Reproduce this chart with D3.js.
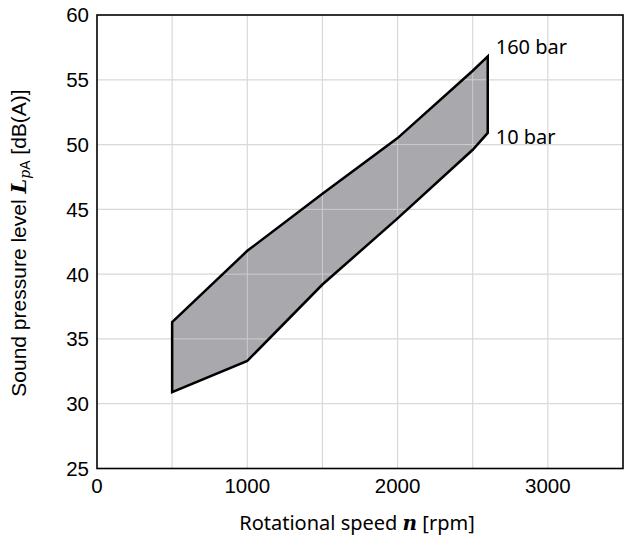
<!DOCTYPE html>
<html><head><meta charset="utf-8">
<script src="https://cdn.jsdelivr.net/npm/d3@7"></script>
<style>body{margin:0;background:#fff}</style>
</head><body>
<svg id="c" width="630" height="541"></svg>
<script>
const speeds = [500, 1000, 1500, 2000, 2500, 2600];
const upper160 = [36.3, 41.8, 46.2, 50.5, 55.7, 56.8];
const lower10 = [30.9, 33.3, 39.2, 44.3, 49.6, 50.9];
const xTicks = [0, 1000, 2000, 3000];
const yTicks = [25, 30, 35, 40, 45, 50, 55, 60];
const xGrid = [500, 1000, 1500, 2000, 2500, 3000];
const seriesLabels = ["160 bar", "10 bar"];

const svg = d3.select("#c");
const L = 97, R = 623, T = 15, B = 468.5;
const x = d3.scaleLinear().domain([0, 3500]).range([L, R]);
const y = d3.scaleLinear().domain([25, 60]).range([B, T]);

const grid = svg.append("g").attr("stroke", "#d9d9d9").attr("stroke-width", 1.2);
xGrid.forEach(v => grid.append("line").attr("x1", x(v)).attr("x2", x(v)).attr("y1", T).attr("y2", B));
yTicks.slice(1, -1).forEach(v => grid.append("line").attr("x1", L).attr("x2", R).attr("y1", y(v)).attr("y2", y(v)));

const pts = speeds.map((s, i) => [s, upper160[i]]).concat(speeds.map((s, i) => [s, lower10[i]]).reverse());
const polyD = d3.line().x(d => x(d[0])).y(d => y(d[1]))(pts) + "Z";
svg.append("path").attr("d", polyD).attr("fill", "#a9a9ad");

svg.append("clipPath").attr("id", "pc").append("path").attr("d", polyD);
const grid2 = svg.append("g").attr("stroke", "#d4d4d6").attr("stroke-width", 1).attr("opacity", 0.85)
  .attr("clip-path", "url(#pc)");
xGrid.forEach(v => grid2.append("line").attr("x1", x(v)).attr("x2", x(v)).attr("y1", T).attr("y2", B));
yTicks.slice(1, -1).forEach(v => grid2.append("line").attr("x1", L).attr("x2", R).attr("y1", y(v)).attr("y2", y(v)));

svg.append("path").attr("d", polyD)
  .attr("fill", "none").attr("stroke", "#000").attr("stroke-width", 2.5);

svg.append("rect").attr("x", L).attr("y", T).attr("width", R - L).attr("height", B - T)
  .attr("fill", "none").attr("stroke", "#000").attr("stroke-width", 1.6);

const tf = "'Liberation Sans', Arial, sans-serif";
svg.append("g").selectAll("text").data(yTicks).join("text")
  .attr("x", L - 8).attr("y", d => y(d)).attr("dy", "0.36em")
  .attr("text-anchor", "end").attr("font-family", tf).attr("font-size", 20.5).text(d => d);
svg.append("g").selectAll("text").data(xTicks).join("text")
  .attr("x", d => x(d)).attr("y", B + 17).attr("dy", "0.36em")
  .attr("text-anchor", "middle").attr("font-family", tf).attr("font-size", 20.5).text(d => d);

const lf = "'Noto Sans', sans-serif";
svg.append("text").attr("x", x(2600) + 8).attr("y", 54)
  .attr("font-family", lf).attr("font-size", 20).text(seriesLabels[0]);
svg.append("text").attr("x", x(2600) + 8).attr("y", 144)
  .attr("font-family", lf).attr("font-size", 20).text(seriesLabels[1]);

const xt = svg.append("text").attr("x", 357).attr("y", 523).attr("dy", "0.36em")
  .attr("text-anchor", "middle").attr("font-family", lf).attr("font-size", 20);
xt.append("tspan").text("Rotational speed ");
xt.append("tspan").attr("font-family", "'DejaVu Serif', serif").attr("font-style", "italic").attr("font-weight", "bold").text("n");
xt.append("tspan").text(" [rpm]");

const yt = svg.append("text").attr("transform", `translate(18,243) rotate(-90)`)
  .attr("dy", "0.36em").attr("text-anchor", "middle").attr("font-family", tf).attr("font-size", 21);
yt.append("tspan").text("Sound pressure level ");
yt.append("tspan").attr("font-family", "'DejaVu Serif', serif").attr("font-style", "italic").attr("font-weight", "bold").text("L");
yt.append("tspan").attr("font-family", "'DejaVu Serif', serif").attr("font-style", "italic").attr("font-size", 14).attr("dy", 4).text("p");
yt.append("tspan").attr("font-size", 14).text("A");
yt.append("tspan").attr("dy", -4).text(" [dB(A)]");
</script>
</body></html>
